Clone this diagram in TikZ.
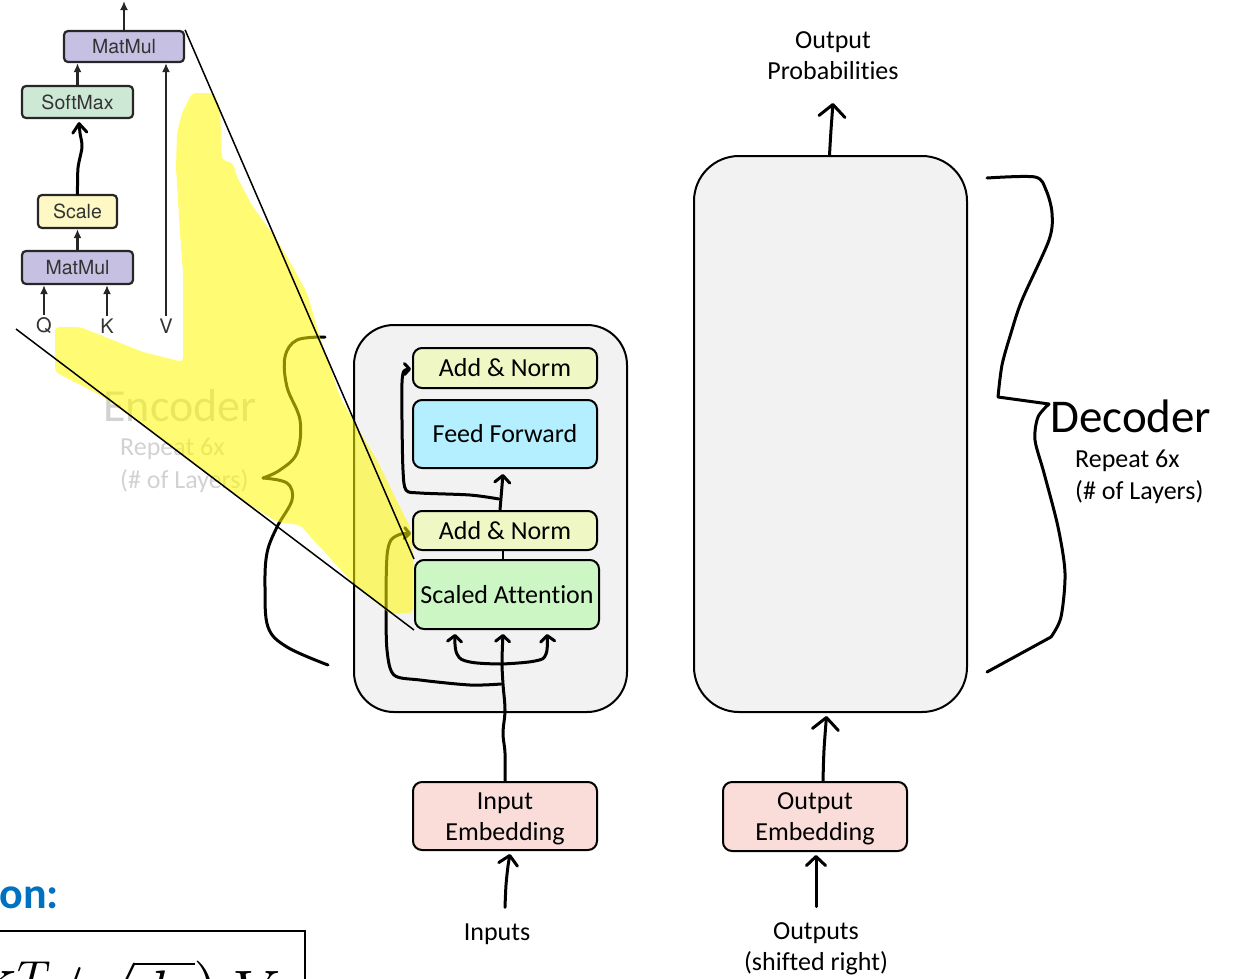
\documentclass[tikz,border=0pt]{standalone}
\usepackage{fontspec}
\setmainfont{Carlito}[Ligatures={NoCommon,NoContextual}]
\newfontfamily\helv{TeX Gyre Heros}
\usetikzlibrary{arrows.meta,calc}
\definecolor{boxgray}{HTML}{F2F2F2}
\definecolor{anfill}{HTML}{EFF7C4}
\definecolor{fffill}{HTML}{B3EFFE}
\definecolor{safill}{HTML}{CCF7C5}
\definecolor{embfill}{HTML}{FADDD9}
\definecolor{mmfill}{HTML}{C6C0E2}
\definecolor{smfill}{HTML}{CEE8D6}
\definecolor{scfill}{HTML}{FDF8C4}
\definecolor{tlgray}{HTML}{333333}
\definecolor{encgray}{HTML}{D2D2D2}
\definecolor{hlyellow}{HTML}{FFFA00}
\definecolor{titleblue}{HTML}{0070C0}
\tikzset{
  blk/.style={draw=black, line width=2pt, rounded corners=9pt, inner sep=0pt,
    minimum width=184pt, font=\fontsize{26}{31}\selectfont, align=center},
  bigbox/.style={draw=black, line width=2pt, fill=boxgray, inner sep=0pt},
  tlbox/.style={draw=black!85, line width=2.2pt, rounded corners=4pt, inner sep=0pt,
    font=\helv\fontsize{19.5}{20}\selectfont, text=tlgray},
  qkv/.style={font=\helv\fontsize{20}{20}\selectfont, text=tlgray, inner sep=3pt},
  tlarrow/.style={line width=2.3pt, draw=black!85, -{Latex[length=9pt,width=8pt]}},
  handln/.style={line width=3pt, line cap=round, line join=round},
  tipR/.style={-{Straight Barb[round,length=5pt,width=11pt]}},
  tipS/.style={-{Straight Barb[round,length=6pt,width=14pt]}},
  tipM/.style={-{Straight Barb[round,length=7pt,width=15pt]}},
  tipL/.style={-{Straight Barb[round,length=9pt,width=19pt]}},
  tipXL/.style={-{Straight Barb[round,length=12pt,width=26pt]}},
  lbl/.style={font=\fontsize{26}{31}\selectfont, align=center, inner sep=0pt},
  thinln/.style={line width=1.5pt, draw=black},
}
\begin{document}
\begin{tikzpicture}[x=1pt,y=-1pt]
\useasboundingbox (0,0) rectangle (1234,978);

% ghost encoder text
\node[text=encgray, font=\fontsize{46}{46}\selectfont, inner sep=0pt] (enct) at (180,406) {Encoder};
\node[lbl, text=encgray, anchor=west] (encr) at (120,449) {Repeat 6x};
\node[lbl, text=encgray, anchor=west] (encl) at (120,481) {(\# of Layers)};

% scaled dot-product attention (top left)
\node[tlbox, fill=mmfill, minimum width=120pt, minimum height=31pt] (mm2) at (124,46.5) {MatMul};
\node[tlbox, fill=smfill, minimum width=111pt, minimum height=32pt] (sm) at (77.5,102) {SoftMax};
\node[tlbox, fill=scfill, minimum width=79pt, minimum height=33pt] (sc) at (77.5,211.5) {Scale};
\node[tlbox, fill=mmfill, minimum width=111pt, minimum height=33pt] (mm1) at (77.5,267.5) {MatMul};
\node[qkv] (q) at (44,326) {Q};
\node[qkv] (k) at (107,326) {K};
\node[qkv] (v) at (166,326) {V};
\coordinate (outtop) at (124,1);
\draw[tlarrow] (q.north) -- (q.north |- mm1.south);
\draw[tlarrow] (k.north) -- (k.north |- mm1.south);
\draw[tlarrow] (v.north) -- (v.north |- mm2.south);
\draw[tlarrow] (mm1.north) -- (sc.south);
\draw[tlarrow] (sm.north) -- (sm.north |- mm2.south);
\draw[tlarrow] (mm2.north) -- (outtop);
\draw[handln, -{Straight Barb[round,length=9pt,width=14pt]}] plot[smooth] coordinates {(sc.north) (78,168) (82,147) (80,133) ($(sm.south)+(1.5,3)$)};

% encoder
\node[bigbox, rounded corners=40pt, minimum width=273pt, minimum height=387pt] (enc) at (490.5,518.5) {};
\node[blk, fill=anfill, minimum height=40pt] (an2) at (505,368) {Add \& Norm};
\node[blk, fill=fffill, minimum height=68pt] (ff) at (505,434) {Feed Forward};
\node[blk, fill=anfill, minimum height=39pt] (an1) at (505,530.5) {Add \& Norm};
\node[blk, fill=safill, minimum height=69pt] (sa) at (507,594.5) {Scaled Attention};
\node[blk, fill=embfill, minimum height=68pt] (inemb) at (505,816) {\rule{0pt}{22pt}Input\\Embedding};
\node[lbl] (inputs) at (497,934) {Inputs};

\coordinate (split) at (502,664);
\coordinate (r1) at (501,684);
\coordinate (r2) at (499,499);

\draw[handln, tipS] plot[smooth, tension=0.6] coordinates {(inemb.north) (505,753) (503,733) (505,710) (503,684) (502,662) ($(sa.south)+(-4,4)$)};
\draw[handln, tipS] plot[smooth, tension=0.7] coordinates {(split) (470,662) (457,654) ($(sa.south)+(-52,4)$)};
\draw[handln, tipS] plot[smooth, tension=0.7] coordinates {(split) (535,661) (546,654) ($(sa.south)+(40,4)$)};
\draw[handln, tipR] plot[smooth, tension=0.5] coordinates {(r1) (470,685) (420,680) (394,675) (387,650) (386,600) (387,556) (391,540) (401,534) ($(an1.west)+(-1,3)$)};
\draw[handln, tipR] plot[smooth, tension=0.5] coordinates {(r2) (470,495) (420,493) (406,490) (403,470) (402,420) (402,383) (404,371) ($(an2.west)+(-1,1)$)};
\draw[handln, tipM] ($(an1.north)+(-5,0)$) -- ($(ff.south)+(-2,5)$);
\draw[line width=2.5pt] ($(sa.north)+(-4,0)$) -- ($(an1.south)+(-2,0)$);
\draw[handln, tipL] plot[smooth] coordinates {($(inputs.north)+(8,-16)$) (506,885) (508,866) ($(inemb.south)+(5,3)$)};

% encoder brace
\draw[handln] plot[smooth, tension=0.6] coordinates {(325,337) (297,340) (285,357) (287,387) (300,420) (297,453) (280,470) (263,478)};
\draw[handln] plot[smooth, tension=0.6] coordinates {(263,478) (287,483) (292,500) (277,527) (267,553) (265,587) (268,627) (287,647) (328,665)};

% highlighter
\fill[hlyellow, opacity=0.55, rounded corners=4pt]
  (192,93) -- (213,93) -- (220,107) -- (222,160) -- (233,163) -- (237,177) -- (253,207)
  -- (277,240) -- (293,267) -- (307,293) -- (320,337) -- (330,367) -- (340,397) -- (357,427)
  -- (377,460) -- (393,493) -- (410,527) -- (413,553) -- (413,613) -- (390,614) -- (350,580)
  -- (300,525) -- (277,522) -- (250,505) -- (190,460) -- (143,425) -- (100,395) -- (55,372)
  -- (55,327) -- (80,327) -- (143,352) -- (183,362) -- (183,333) -- (183,273) -- (180,233)
  -- (176,167) -- (177,133) -- (182,113) -- cycle;

% zoom lines
\coordinate (zl) at (16,329);
\draw[thinln] (mm2.north east) -- (sa.north west);
\draw[thinln] (zl) -- (sa.south west);

% decoder
\node[bigbox, rounded corners=45pt, minimum width=273pt, minimum height=556pt] (dec) at (830.5,434) {};
\node[blk, fill=embfill, minimum height=69pt] (outemb) at (815,816.5) {\rule{0pt}{22pt}Output\\Embedding};
\node[lbl] (outs) at (816,949) {Outputs\\(shifted right)};
\node[lbl] (probs) at (833,56) {Output\\Probabilities};
\node[font=\fontsize{47}{47}\selectfont, inner sep=0pt, anchor=west] (dect) at (1050,416) {Decoder};
\node[lbl, anchor=west] (decr) at (1075,461) {Repeat 6x};
\node[lbl, anchor=west] (decl) at (1075,492) {(\# of Layers)};
\coordinate (probtip) at (833,103);

\draw[handln, tipXL] plot[smooth] coordinates {($(dec.north)+(-1,0)$) (831,130) (probtip)};
\draw[handln, tipXL] plot[smooth] coordinates {($(outemb.north)+(8,0)$) (824,750) ($(dec.south)+(-4,3)$)};
\draw[handln, tipL] plot[smooth] coordinates {($(outs.north)+(0,-16)$) (816,880) ($(outemb.south)+(1,3)$)};

% decoder brace
\draw[handln] plot[smooth, tension=0.5] coordinates {(987,178) (1035,177) (1046,190) (1052,213) (1049,240) (1022,300) (1011,333) (1002,365) (998,397)} -- (1049,404);
\draw[handln] plot[smooth, tension=0.5] coordinates {(1049,404) (1038,417) (1035,440) (1044,473) (1058,527) (1065,573) (1061,617) (1051,637)} -- (987,672);

% formula fragment (bottom left)
\node[text=titleblue, font=\bfseries\fontsize{44}{44}\selectfont, anchor=base east, inner sep=0pt] (ontxt) at (59,908) {on:};
\draw[line width=1.5pt] (-5,931) -- (305,931) -- (305,990);
\node[anchor=base east, inner sep=0pt] (formula) at (281,1012) {\scalebox{6}{$\mathrm{softmax}\left(QK^T/\sqrt{d_k}\right)V$}};
\end{tikzpicture}
\end{document}
